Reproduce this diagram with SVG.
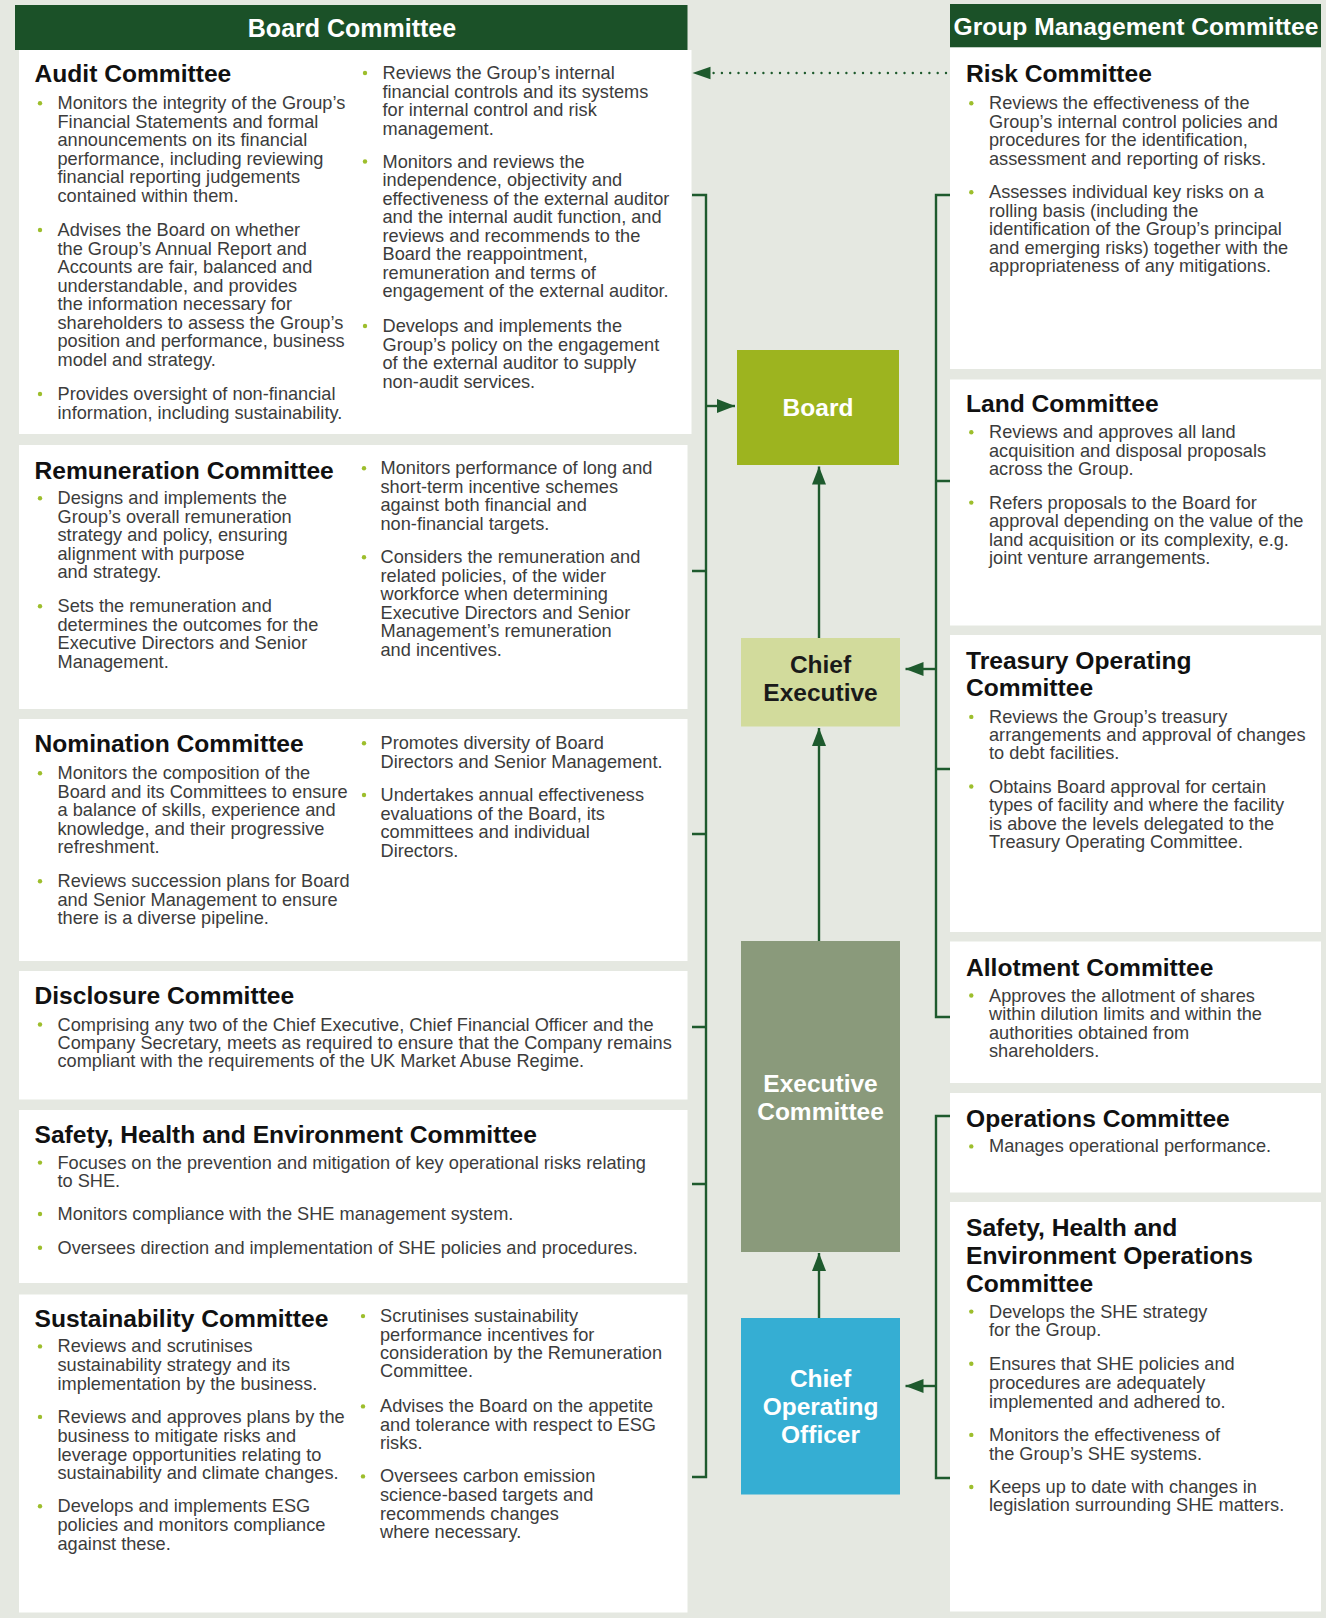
<svg xmlns="http://www.w3.org/2000/svg" width="1326" height="1618" viewBox="0 0 1326 1618">
<defs>
<style>
.bg{fill:#E5E8E1}
.hdr{fill:#1B5128}
.box{fill:#FFFFFF}
.ht{font-family:"Liberation Sans",Arial,sans-serif;font-weight:bold;font-size:25px;fill:#FFFFFF;text-anchor:middle}
.h{font-family:"Liberation Sans",Arial,sans-serif;font-weight:bold;font-size:24.6px;fill:#111111}
.t{font-family:"Liberation Sans",Arial,sans-serif;font-size:18.2px;fill:#3C3C3C}
.b{fill:#9DBE2C}
.nl{font-family:"Liberation Sans",Arial,sans-serif;font-weight:bold;font-size:24.5px;text-anchor:middle}
.c{fill:none;stroke:#1E5A2D;stroke-width:2.4}
.dot{fill:none;stroke:#1E5A2D;stroke-width:2.4;stroke-linecap:round;stroke-dasharray:0 8.3}
.ah{fill:#1E5A2D}
</style>
<marker id="arr" viewBox="0 0 18 14" refX="18" refY="7" markerWidth="18" markerHeight="14" markerUnits="userSpaceOnUse" orient="auto">
<path d="M0,0 L18,7 L0,14 Z" class="ah"/>
</marker>
</defs>
<rect class="bg" x="0" y="0" width="1326" height="1618"/>

<!-- Headers -->
<g id="board-committee-header">
<rect class="hdr" x="15" y="5" width="672.5" height="45"/>
<text class="ht" x="352" y="36.5">Board Committee</text>
</g>
<g id="group-management-header">
<rect class="hdr" x="950" y="4" width="371" height="43.5"/>
<text class="ht" x="1136" y="34.5" style="font-size:24.6px">Group Management Committee</text>
</g>

<!-- Audit -->
<g id="audit-committee">
<rect class="box" x="19" y="50" width="672.5" height="384"/>
<text class="h" x="34.5" y="82">Audit Committee</text>
<circle class="b" cx="40" cy="103.3" r="2.2"/>
<text class="t"><tspan x="57.5" y="109.3">Monitors the integrity of the Group’s</tspan><tspan x="57.5" dy="18.5">Financial Statements and formal</tspan><tspan x="57.5" dy="18.5">announcements on its financial</tspan><tspan x="57.5" dy="18.5">performance, including reviewing</tspan><tspan x="57.5" dy="18.5">financial reporting judgements</tspan><tspan x="57.5" dy="18.5">contained within them.</tspan></text>
<circle class="b" cx="40" cy="230" r="2.2"/>
<text class="t"><tspan x="57.5" y="236">Advises the Board on whether</tspan><tspan x="57.5" dy="18.5">the Group’s Annual Report and</tspan><tspan x="57.5" dy="18.5">Accounts are fair, balanced and</tspan><tspan x="57.5" dy="18.5">understandable, and provides</tspan><tspan x="57.5" dy="18.5">the information necessary for</tspan><tspan x="57.5" dy="18.5">shareholders to assess the Group’s</tspan><tspan x="57.5" dy="18.5">position and performance, business</tspan><tspan x="57.5" dy="18.5">model and strategy.</tspan></text>
<circle class="b" cx="40" cy="394" r="2.2"/>
<text class="t"><tspan x="57.5" y="400">Provides oversight of non-financial</tspan><tspan x="57.5" dy="18.5">information, including sustainability.</tspan></text>
<circle class="b" cx="365" cy="73" r="2.2"/>
<text class="t"><tspan x="382.5" y="79">Reviews the Group’s internal</tspan><tspan x="382.5" dy="18.5">financial controls and its systems</tspan><tspan x="382.5" dy="18.5">for internal control and risk</tspan><tspan x="382.5" dy="18.5">management.</tspan></text>
<circle class="b" cx="365" cy="161.5" r="2.2"/>
<text class="t"><tspan x="382.5" y="167.5">Monitors and reviews the</tspan><tspan x="382.5" dy="18.5">independence, objectivity and</tspan><tspan x="382.5" dy="18.5">effectiveness of the external auditor</tspan><tspan x="382.5" dy="18.5">and the internal audit function, and</tspan><tspan x="382.5" dy="18.5">reviews and recommends to the</tspan><tspan x="382.5" dy="18.5">Board the reappointment,</tspan><tspan x="382.5" dy="18.5">remuneration and terms of</tspan><tspan x="382.5" dy="18.5">engagement of the external auditor.</tspan></text>
<circle class="b" cx="365" cy="326" r="2.2"/>
<text class="t"><tspan x="382.5" y="332">Develops and implements the</tspan><tspan x="382.5" dy="18.5">Group’s policy on the engagement</tspan><tspan x="382.5" dy="18.5">of the external auditor to supply</tspan><tspan x="382.5" dy="18.5">non-audit services.</tspan></text>
</g>

<!-- Remuneration -->
<g id="remuneration-committee">
<rect class="box" x="19" y="445" width="668.5" height="264"/>
<text class="h" x="34.5" y="479">Remuneration Committee</text>
<circle class="b" cx="40" cy="498.3" r="2.2"/>
<text class="t"><tspan x="57.5" y="504.3">Designs and implements the</tspan><tspan x="57.5" dy="18.5">Group’s overall remuneration</tspan><tspan x="57.5" dy="18.5">strategy and policy, ensuring</tspan><tspan x="57.5" dy="18.5">alignment with purpose</tspan><tspan x="57.5" dy="18.5">and strategy.</tspan></text>
<circle class="b" cx="40" cy="606.3" r="2.2"/>
<text class="t"><tspan x="57.5" y="612.3">Sets the remuneration and</tspan><tspan x="57.5" dy="18.5">determines the outcomes for the</tspan><tspan x="57.5" dy="18.5">Executive Directors and Senior</tspan><tspan x="57.5" dy="18.5">Management.</tspan></text>
<circle class="b" cx="364" cy="468.3" r="2.2"/>
<text class="t"><tspan x="380.5" y="474.3">Monitors performance of long and</tspan><tspan x="380.5" dy="18.5">short-term incentive schemes</tspan><tspan x="380.5" dy="18.5">against both financial and</tspan><tspan x="380.5" dy="18.5">non-financial targets.</tspan></text>
<circle class="b" cx="364" cy="557.3" r="2.2"/>
<text class="t"><tspan x="380.5" y="563.3">Considers the remuneration and</tspan><tspan x="380.5" dy="18.5">related policies, of the wider</tspan><tspan x="380.5" dy="18.5">workforce when determining</tspan><tspan x="380.5" dy="18.5">Executive Directors and Senior</tspan><tspan x="380.5" dy="18.5">Management’s remuneration</tspan><tspan x="380.5" dy="18.5">and incentives.</tspan></text>
</g>

<!-- Nomination -->
<g id="nomination-committee">
<rect class="box" x="19" y="719" width="668.5" height="242"/>
<text class="h" x="34.5" y="752.3">Nomination Committee</text>
<circle class="b" cx="40" cy="773.3" r="2.2"/>
<text class="t"><tspan x="57.5" y="779.3">Monitors the composition of the</tspan><tspan x="57.5" dy="18.5">Board and its Committees to ensure</tspan><tspan x="57.5" dy="18.5">a balance of skills, experience and</tspan><tspan x="57.5" dy="18.5">knowledge, and their progressive</tspan><tspan x="57.5" dy="18.5">refreshment.</tspan></text>
<circle class="b" cx="40" cy="881.3" r="2.2"/>
<text class="t"><tspan x="57.5" y="887.3">Reviews succession plans for Board</tspan><tspan x="57.5" dy="18.5">and Senior Management to ensure</tspan><tspan x="57.5" dy="18.5">there is a diverse pipeline.</tspan></text>
<circle class="b" cx="364" cy="743.3" r="2.2"/>
<text class="t"><tspan x="380.5" y="749.3">Promotes diversity of Board</tspan><tspan x="380.5" dy="18.5">Directors and Senior Management.</tspan></text>
<circle class="b" cx="364" cy="795" r="2.2"/>
<text class="t"><tspan x="380.5" y="801">Undertakes annual effectiveness</tspan><tspan x="380.5" dy="18.5">evaluations of the Board, its</tspan><tspan x="380.5" dy="18.5">committees and individual</tspan><tspan x="380.5" dy="18.5">Directors.</tspan></text>
</g>

<!-- Disclosure -->
<g id="disclosure-committee">
<rect class="box" x="19" y="971" width="668.5" height="128.5"/>
<text class="h" x="34.5" y="1004">Disclosure Committee</text>
<circle class="b" cx="40" cy="1024.5" r="2.2"/>
<text class="t"><tspan x="57.5" y="1030.5">Comprising any two of the Chief Executive, Chief Financial Officer and the</tspan><tspan x="57.5" dy="18.3">Company Secretary, meets as required to ensure that the Company remains</tspan><tspan x="57.5" dy="18.3">compliant with the requirements of the UK Market Abuse Regime.</tspan></text>
</g>

<!-- SHE -->
<g id="she-committee">
<rect class="box" x="19" y="1110" width="668.5" height="173"/>
<text class="h" x="34.5" y="1143.4">Safety, Health and Environment Committee</text>
<circle class="b" cx="40" cy="1162.6" r="2.2"/>
<text class="t"><tspan x="57.5" y="1168.6">Focuses on the prevention and mitigation of key operational risks relating</tspan><tspan x="57.5" dy="18">to SHE.</tspan></text>
<circle class="b" cx="40" cy="1214" r="2.2"/>
<text class="t" x="57.5" y="1220">Monitors compliance with the SHE management system.</text>
<circle class="b" cx="40" cy="1247.7" r="2.2"/>
<text class="t" x="57.5" y="1253.7">Oversees direction and implementation of SHE policies and procedures.</text>
</g>

<!-- Sustainability -->
<g id="sustainability-committee">
<rect class="box" x="19" y="1294.5" width="668.5" height="318"/>
<text class="h" x="34.5" y="1327.2">Sustainability Committee</text>
<circle class="b" cx="40" cy="1346.4" r="2.2"/>
<text class="t"><tspan x="57.5" y="1352.4">Reviews and scrutinises</tspan><tspan x="57.5" dy="18.8">sustainability strategy and its</tspan><tspan x="57.5" dy="18.8">implementation by the business.</tspan></text>
<circle class="b" cx="40" cy="1416.9" r="2.2"/>
<text class="t"><tspan x="57.5" y="1422.9">Reviews and approves plans by the</tspan><tspan x="57.5" dy="18.8">business to mitigate risks and</tspan><tspan x="57.5" dy="18.8">leverage opportunities relating to</tspan><tspan x="57.5" dy="18.8">sustainability and climate changes.</tspan></text>
<circle class="b" cx="40" cy="1506.2" r="2.2"/>
<text class="t"><tspan x="57.5" y="1512.2">Develops and implements ESG</tspan><tspan x="57.5" dy="18.8">policies and monitors compliance</tspan><tspan x="57.5" dy="18.8">against these.</tspan></text>
<circle class="b" cx="363" cy="1316.1" r="2.2"/>
<text class="t"><tspan x="380" y="1322.1">Scrutinises sustainability</tspan><tspan x="380" dy="18.6">performance incentives for</tspan><tspan x="380" dy="18.6">consideration by the Remuneration</tspan><tspan x="380" dy="18">Committee.</tspan></text>
<circle class="b" cx="363" cy="1406.4" r="2.2"/>
<text class="t"><tspan x="380" y="1412.4">Advises the Board on the appetite</tspan><tspan x="380" dy="18.4">and tolerance with respect to ESG</tspan><tspan x="380" dy="18.4">risks.</tspan></text>
<circle class="b" cx="363" cy="1476.4" r="2.2"/>
<text class="t"><tspan x="380" y="1482.4">Oversees carbon emission</tspan><tspan x="380" dy="18.7">science-based targets and</tspan><tspan x="380" dy="18.7">recommends changes</tspan><tspan x="380" dy="18.4">where necessary.</tspan></text>
</g>

<!-- Right column -->
<g id="risk-committee">
<rect class="box" x="950" y="47.5" width="371" height="321.5"/>
<text class="h" x="966" y="82.3">Risk Committee</text>
<circle class="b" cx="971.3" cy="103.3" r="2.2"/>
<text class="t"><tspan x="989" y="109.3">Reviews the effectiveness of the</tspan><tspan x="989" dy="18.5">Group’s internal control policies and</tspan><tspan x="989" dy="18.5">procedures for the identification,</tspan><tspan x="989" dy="18.5">assessment and reporting of risks.</tspan></text>
<circle class="b" cx="971.3" cy="192.3" r="2.2"/>
<text class="t"><tspan x="989" y="198.3">Assesses individual key risks on a</tspan><tspan x="989" dy="18.5">rolling basis (including the</tspan><tspan x="989" dy="18.5">identification of the Group’s principal</tspan><tspan x="989" dy="18.5">and emerging risks) together with the</tspan><tspan x="989" dy="18.5">appropriateness of any mitigations.</tspan></text>
</g>

<g id="land-committee">
<rect class="box" x="950" y="379.5" width="371" height="246"/>
<text class="h" x="966" y="412">Land Committee</text>
<circle class="b" cx="971.3" cy="432.2" r="2.2"/>
<text class="t"><tspan x="989" y="438.2">Reviews and approves all land</tspan><tspan x="989" dy="18.6">acquisition and disposal proposals</tspan><tspan x="989" dy="18.6">across the Group.</tspan></text>
<circle class="b" cx="971.3" cy="502.6" r="2.2"/>
<text class="t"><tspan x="989" y="508.6">Refers proposals to the Board for</tspan><tspan x="989" dy="18.5">approval depending on the value of the</tspan><tspan x="989" dy="18.5">land acquisition or its complexity, e.g.</tspan><tspan x="989" dy="18.5">joint venture arrangements.</tspan></text>
</g>

<g id="treasury-operating-committee">
<rect class="box" x="950" y="635" width="371" height="297"/>
<text class="h"><tspan x="966" y="668.6">Treasury Operating</tspan><tspan x="966" dy="27.6">Committee</tspan></text>
<circle class="b" cx="971.3" cy="716.9" r="2.2"/>
<text class="t"><tspan x="989" y="722.9">Reviews the Group’s treasury</tspan><tspan x="989" dy="17.9">arrangements and approval of changes</tspan><tspan x="989" dy="17.9">to debt facilities.</tspan></text>
<circle class="b" cx="971.3" cy="786.5" r="2.2"/>
<text class="t"><tspan x="989" y="792.5">Obtains Board approval for certain</tspan><tspan x="989" dy="18.5">types of facility and where the facility</tspan><tspan x="989" dy="18.5">is above the levels delegated to the</tspan><tspan x="989" dy="18.5">Treasury Operating Committee.</tspan></text>
</g>

<g id="allotment-committee">
<rect class="box" x="950" y="941.5" width="371" height="141.5"/>
<text class="h" x="966" y="975.7">Allotment Committee</text>
<circle class="b" cx="971.3" cy="995.5" r="2.2"/>
<text class="t"><tspan x="989" y="1001.5">Approves the allotment of shares</tspan><tspan x="989" dy="18.6">within dilution limits and within the</tspan><tspan x="989" dy="18.6">authorities obtained from</tspan><tspan x="989" dy="18.2">shareholders.</tspan></text>
</g>

<g id="operations-committee">
<rect class="box" x="950" y="1093" width="371" height="99.5"/>
<text class="h" x="966" y="1127">Operations Committee</text>
<circle class="b" cx="971.3" cy="1146.4" r="2.2"/>
<text class="t" x="989" y="1152.4">Manages operational performance.</text>
</g>

<g id="she-operations-committee">
<rect class="box" x="950" y="1202" width="371" height="409.5"/>
<text class="h"><tspan x="966" y="1236">Safety, Health and</tspan><tspan x="966" dy="28">Environment Operations</tspan><tspan x="966" dy="28">Committee</tspan></text>
<circle class="b" cx="971.3" cy="1311.6" r="2.2"/>
<text class="t"><tspan x="989" y="1317.6">Develops the SHE strategy</tspan><tspan x="989" dy="18.7">for the Group.</tspan></text>
<circle class="b" cx="971.3" cy="1363.7" r="2.2"/>
<text class="t"><tspan x="989" y="1369.7">Ensures that SHE policies and</tspan><tspan x="989" dy="18.9">procedures are adequately</tspan><tspan x="989" dy="18.9">implemented and adhered to.</tspan></text>
<circle class="b" cx="971.3" cy="1434.9" r="2.2"/>
<text class="t"><tspan x="989" y="1440.9">Monitors the effectiveness of</tspan><tspan x="989" dy="18.7">the Group’s SHE systems.</tspan></text>
<circle class="b" cx="971.3" cy="1487" r="2.2"/>
<text class="t"><tspan x="989" y="1493">Keeps up to date with changes in</tspan><tspan x="989" dy="18.4">legislation surrounding SHE matters.</tspan></text>
</g>

<!-- Centre nodes -->
<g id="board">
<rect x="737" y="350" width="162" height="115" fill="#9DB41F"/>
<text class="nl" x="818" y="416" fill="#FFFFFF">Board</text>
</g>
<g id="chief-executive">
<rect x="741" y="638" width="159" height="88.5" fill="#D2DB9C"/>
<text class="nl" fill="#1A1A1A"><tspan x="820.5" y="673">Chief</tspan><tspan x="820.5" dy="28">Executive</tspan></text>
</g>
<g id="executive-committee">
<rect x="741" y="941" width="159" height="311" fill="#8A9A7B"/>
<text class="nl" fill="#FFFFFF"><tspan x="820.5" y="1092">Executive</tspan><tspan x="820.5" dy="28">Committee</tspan></text>
</g>
<g id="chief-operating-officer">
<rect x="741" y="1318" width="159" height="176.5" fill="#35AED3"/>
<text class="nl" fill="#FFFFFF"><tspan x="820.5" y="1387">Chief</tspan><tspan x="820.5" dy="28">Operating</tspan><tspan x="820.5" dy="28">Officer</tspan></text>
</g>

<!-- Connectors -->
<g id="connectors">
<path class="c" d="M692,195 H706 V1477 H692"/>
<path class="c" d="M692,571 H706 M692,834 H706 M692,1027 H706 M692,1184 H706"/>
<path class="c" d="M706,406 H735" marker-end="url(#arr)"/>
<path class="c" d="M950,195 H936 V1017 H950"/>
<path class="c" d="M936,481 H950 M936,769 H950"/>
<path class="c" d="M936,669 H905.5" marker-end="url(#arr)"/>
<path class="c" d="M950,1116 H936 V1478 H950"/>
<path class="c" d="M936,1386 H905.5" marker-end="url(#arr)"/>
<path class="c" d="M819,638 V466.5" marker-end="url(#arr)"/>
<path class="c" d="M819,941 V728" marker-end="url(#arr)"/>
<path class="c" d="M819,1318 V1253" marker-end="url(#arr)"/>
<path class="dot" d="M946,73 H712"/>
<path class="ah" d="M692.5,73 L710.5,66.7 L710.5,79.3 Z"/>
</g>
</svg>
